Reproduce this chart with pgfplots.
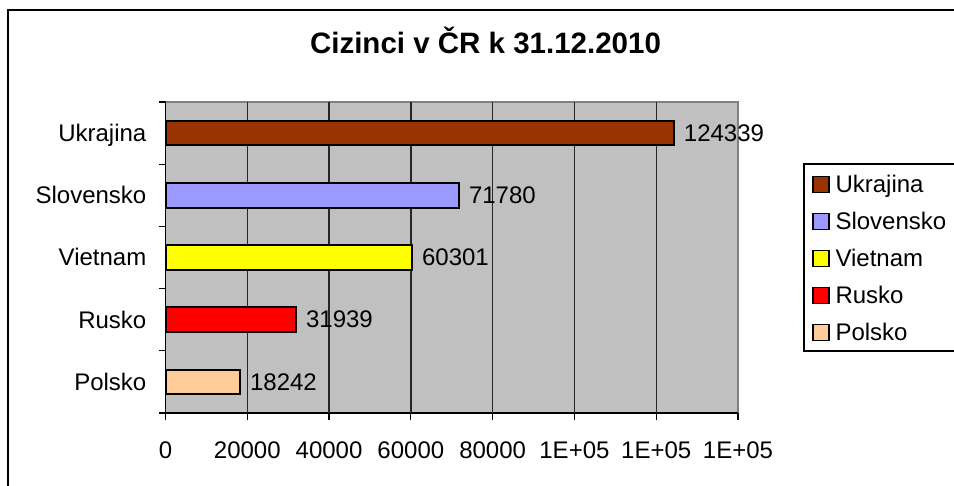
\documentclass[border=0pt]{standalone}
\usepackage{pgfplots}
\pgfplotsset{compat=1.18}
\usepackage{fontspec}
\setmainfont{Liberation Sans}
\definecolor{ukr}{HTML}{993300}
\definecolor{svk}{HTML}{9999FF}
\definecolor{vnm}{HTML}{FFFF00}
\definecolor{rus}{HTML}{FF0000}
\definecolor{pol}{HTML}{FFCC99}
\definecolor{plotgray}{HTML}{C0C0C0}
\definecolor{bordergray}{HTML}{808080}
\newcommand{\lbl}{\fontsize{24bp}{28bp}\selectfont}
\begin{document}
\begin{tikzpicture}
\useasboundingbox (0,0) rectangle (954bp,486bp);
\clip (0,0) rectangle (954bp,486bp);
\draw[line width=1.5bp] (8bp,-10bp) rectangle (970bp,476bp);
\node[font=\fontsize{29.5bp}{33bp}\selectfont\bfseries, anchor=base, inner sep=0pt] at (485.5bp,432bp) {Cizinci v ČR k 31.12.2010};
\draw[line width=1.2bp] (804bp,135bp) rectangle (970bp,322bp);
\begin{axis}[
  at={(165.5bp,73bp)}, anchor=south west,
  scale only axis, width=572.5bp, height=311bp,
  xmin=0, xmax=140000, ymin=-0.5, ymax=4.5,
  axis x line*=bottom, axis y line*=left,
  axis line style={line width=1.5bp, black, -},
  axis background/.style={fill=plotgray, draw=bordergray, line width=1.5bp},
  xbar,
  every axis plot/.append style={bar shift=0pt, bar width=24.5bp, draw=black, line width=2bp},
  scaled x ticks=false,
  xtick={0,20000,40000,60000,80000,100000,120000,140000},
  xticklabels={0,20000,40000,60000,80000,1E+05,1E+05,1E+05},
  tick align=outside, major tick length=7bp,
  tick style={black, line width=1.2bp},
  ytick={-0.5,0.5,1.5,2.5,3.5,4.5}, yticklabels={,,,,,},
  extra y ticks={0,1,2,3,4},
  extra y tick labels={Polsko,Rusko,Vietnam,Slovensko,Ukrajina},
  extra y tick style={major tick length=0pt, tick style={draw=none}},
  extra x ticks={20000,40000,60000,80000,100000,120000},
  extra x tick labels={,,,,,},
  extra x tick style={grid=major, major tick length=0pt, tick style={draw=none}},
  major grid style={black!85, line width=1.3bp},
  /pgf/number format/assume math mode=true,
  tick label style={font=\lbl},
  xticklabel style={anchor=base, inner sep=0pt, yshift=-38bp},
  yticklabel style={anchor=base east, inner sep=0pt, xshift=-19bp, yshift=-8.5bp},
  point meta=explicit symbolic,
  nodes near coords,
  nodes near coords style={anchor=west, inner sep=0pt, xshift=9bp, font=\lbl, black},
  legend cell align=left,
  legend style={at={(1.12926,0.76527)}, anchor=north west, draw=none, fill=none,
    inner sep=0pt, outer sep=0pt, row sep=15bp, column sep=6bp, font=\lbl,
    nodes={text height=17bp, text depth=5bp, inner sep=0pt}},
  legend image code/.code={\draw[#1, line width=1.5bp] (0bp,-6.5bp) rectangle (16bp,9.5bp);},
]
\addplot[fill=ukr] coordinates {(124339,4) [124339]};
\addplot[fill=svk] coordinates {(71780,3) [71780]};
\addplot[fill=vnm] coordinates {(60301,2) [60301]};
\addplot[fill=rus] coordinates {(31939,1) [31939]};
\addplot[fill=pol] coordinates {(18242,0) [18242]};
\legend{Ukrajina,Slovensko,Vietnam,Rusko,Polsko}
\end{axis}
\end{tikzpicture}
\end{document}
